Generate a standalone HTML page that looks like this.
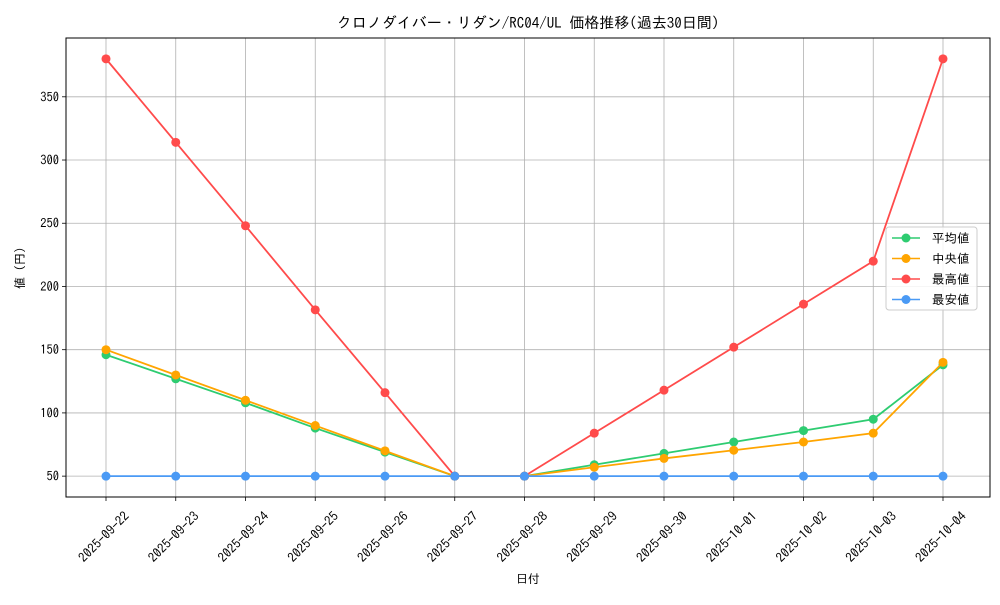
<!DOCTYPE html>
<html><head><meta charset="utf-8"><style>
html,body{margin:0;padding:0;background:#fff;}
svg text{font-family:"IPAGothic","Liberation Sans","Noto Sans CJK JP",sans-serif;fill:#000;}
</style></head><body>
<svg id="chart" width="1000" height="600" viewBox="0 0 1000 600" xmlns="http://www.w3.org/2000/svg">
<rect width="1000" height="600" fill="#fff"/>
<g id="grid"></g>
<g id="axes"></g>
<g id="series"></g>
<text x="528" y="28" font-size="15" text-anchor="middle">クロノダイバー・リダン/RC04/UL 価格推移(過去30日間)</text>
<text x="528" y="583" font-size="12" text-anchor="middle">日付</text>
<text transform="translate(24,268) rotate(-90)" font-size="12" text-anchor="middle">値 (円)</text>
<g id="legend"></g>
</svg>
<script>
const categories=["2025-09-22","2025-09-23","2025-09-24","2025-09-25","2025-09-26","2025-09-27","2025-09-28","2025-09-29","2025-09-30","2025-10-01","2025-10-02","2025-10-03","2025-10-04"];
const avgValues=[146,127,108,88,69,50,50,59,68,77,86,95,138];
const medianValues=[150,130,110,90,70,50,50,57,64,70.5,77,84,140];
const maxValues=[380,314,248,181.5,116,50,50,84,118,152,186,220,380];
const minValues=[50,50,50,50,50,50,50,50,50,50,50,50,50];
const yTicks=[50,100,150,200,250,300,350];
const seriesNames=["平均値","中央値","最高値","最安値"];

const NS="http://www.w3.org/2000/svg";
const L=66,R=990,T=38,B=497;
const all=[...avgValues,...medianValues,...maxValues,...minValues];
const dmin=Math.min(...all),dmax=Math.max(...all),pad=(dmax-dmin)*0.05;
const y0=dmin-pad,y1=dmax+pad;
const xs=i=>106+i*(943-106)/(categories.length-1);
const ys=v=>B-(v-y0)/(y1-y0)*(B-T);
function mk(tag,attrs,parent){const e=document.createElementNS(NS,tag);for(const k in attrs)e.setAttribute(k,attrs[k]);parent.appendChild(e);return e;}
const grid=document.getElementById('grid'),axes=document.getElementById('axes'),ser=document.getElementById('series'),leg=document.getElementById('legend');
categories.forEach((c,i)=>{
  const x=xs(i);
  const g=mk('line',{x1:x,x2:x,y1:T,y2:B,stroke:'#b0b0b0','stroke-width':0.8},grid);
  
  
  mk('line',{x1:x,x2:x,y1:B,y2:B+4,stroke:'#000','stroke-width':0.8},axes);
  const t=mk('text',{x:0,y:0,'font-size':13,'text-anchor':'end',transform:`translate(${x+24},${B+20}) rotate(-45)`},axes);
  t.textContent=c;
  
  
});
yTicks.forEach(v=>{
  const y=ys(v);
  const g=mk('line',{x1:L,x2:R,y1:y,y2:y,stroke:'#b0b0b0','stroke-width':0.8},grid);
  
  
  mk('line',{x1:L-4,x2:L,y1:y,y2:y,stroke:'#000','stroke-width':0.8},axes);
  const t=mk('text',{x:L-7,y:y+4.5,'font-size':12.5,'text-anchor':'end'},axes);
  t.textContent=v;
  
  
});
const frame=mk('rect',{x:L,y:T,width:R-L,height:B-T,fill:'none',stroke:'#000','stroke-width':1},axes);


const series=[[avgValues,'#2ecc71'],[medianValues,'#ffa500'],[maxValues,'#ff4b4b'],[minValues,'#4a9af5']];
const keys=['avg','median','max','min'];
series.forEach(([vals,col],si)=>{
  const g=mk('g',{},ser);
  
  
  const p=mk('polyline',{points:vals.map((v,i)=>xs(i)+','+ys(v)).join(' '),fill:'none',stroke:col,'stroke-width':1.8},g);
  
  
  vals.forEach((v,i)=>{
    const c=mk('circle',{cx:xs(i),cy:ys(v),r:4.5,fill:col},g);
    
    
  });
});
mk('rect',{x:886,y:227,width:91,height:83,rx:3,fill:'#fff','fill-opacity':0.85,stroke:'#ccc'},leg);
seriesNames.forEach((n,i)=>{
  const y=238+i*20.5,col=series[i][1];
  const e=mk('g',{},leg);
  
  
  mk('line',{x1:892,x2:920,y1:y,y2:y,stroke:col,'stroke-width':1.6},e);
  mk('circle',{cx:906,cy:y,r:4.5,fill:col},e);
  const t=mk('text',{x:932,y:y+4.5,'font-size':12.5},e);
  t.textContent=n;
});
</script>
</body></html>
